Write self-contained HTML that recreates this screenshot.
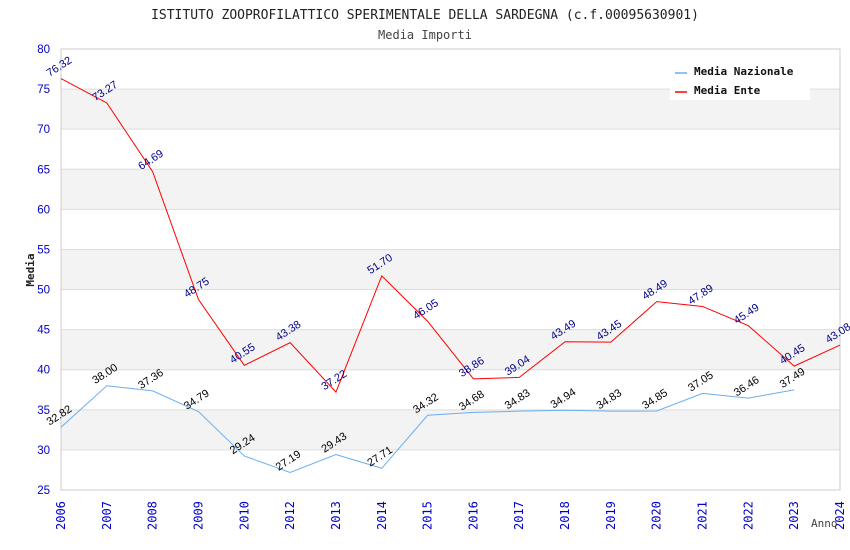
<!DOCTYPE html>
<html><head><meta charset="utf-8"><style>body{margin:0;background:#fff}svg{display:block}</style></head><body>
<svg id="c" width="850" height="550" xmlns="http://www.w3.org/2000/svg" font-family="Liberation Sans, sans-serif">
<text x="425" y="19" text-anchor="middle" font-family="DejaVu Sans Mono, monospace" font-size="13" fill="#222">ISTITUTO ZOOPROFILATTICO SPERIMENTALE DELLA SARDEGNA (c.f.00095630901)</text>
<text x="425" y="39" text-anchor="middle" font-family="DejaVu Sans Mono, monospace" font-size="12" fill="#444">Media Importi</text>
<g id="grid"></g><g id="series"></g><g id="labels"></g>
<text x="34" y="270" transform="rotate(-90 34 270)" text-anchor="middle" font-family="DejaVu Sans Mono, monospace" font-size="11" font-weight="bold" fill="#222">Media</text>
<text x="811" y="527" font-family="DejaVu Sans Mono, monospace" font-size="11" fill="#444">Anno</text>
<g>
<rect x="670" y="60" width="140" height="40" fill="#fff"/>
<line x1="675" y1="73" x2="687" y2="73" stroke="#6aaeed" stroke-width="1.5"/>
<text x="694" y="75" font-family="DejaVu Sans Mono, monospace" font-size="11" font-weight="bold" fill="#111">Media Nazionale</text>
<line x1="675" y1="92" x2="687" y2="92" stroke="#f00" stroke-width="1.5"/>
<text x="694" y="94" font-family="DejaVu Sans Mono, monospace" font-size="11" font-weight="bold" fill="#111">Media Ente</text>
</g>
</svg>
<script>
const years=["2006","2007","2008","2009","2010","2012","2013","2014","2015","2016","2017","2018","2019","2020","2021","2022","2023","2024"];
const ente=[76.32,73.27,64.69,48.75,40.55,43.38,37.22,51.70,46.05,38.86,39.04,43.49,43.45,48.49,47.89,45.49,40.45,43.08];
const naz=[32.82,38.00,37.36,34.79,29.24,27.19,29.43,27.71,34.32,34.68,34.83,34.94,34.83,34.85,37.05,36.46,37.49,null];
const yTicks=[25,30,35,40,45,50,55,60,65,70,75,80];
const NS="http://www.w3.org/2000/svg";
const L=61,R=840,T=49,B=490,yMin=25,yMax=80;
const x=i=>L+(R-L)*i/(years.length-1);
const y=v=>B-(v-yMin)/(yMax-yMin)*(B-T);
function mk(t,a,p){const e=document.createElementNS(NS,t);for(const k in a)e.setAttribute(k,a[k]);p.appendChild(e);return e;}
const g=document.getElementById('grid'),s=document.getElementById('series'),lb=document.getElementById('labels');
for(let i=0;i<yTicks.length-1;i++){if(i%2===1){const r=mk('rect',{x:L,y:y(yTicks[i+1]),width:R-L,height:y(yTicks[i])-y(yTicks[i+1]),fill:'#f3f3f3'},g);

}}
yTicks.forEach(v=>{const l=mk('line',{x1:L,x2:R,y1:y(v),y2:y(v),stroke:'#ddd'},g);


const t=mk('text',{x:50,y:y(v)+4,'text-anchor':'end','font-size':'11.5',fill:'#00c'},g);t.textContent=v;

});
mk('rect',{x:L,y:T,width:R-L,height:B-T,fill:'none',stroke:'#ccc'},g);
years.forEach((yr,i)=>{const t=mk('text',{x:x(i)+4,y:530,transform:`rotate(-90 ${x(i)+4} 530)`,'font-family':'DejaVu Sans Mono, monospace','font-size':'12',fill:'#00c'},g);t.textContent=yr;

});
function line(arr,col,tc,name){let d='';arr.forEach((v,i)=>{if(v==null)return;d+=(d?'L':'M')+x(i)+' '+y(v);});
const p=mk('path',{d:d,fill:'none',stroke:col,'stroke-width':1},s);


arr.forEach((v,i)=>{if(v==null)return;const tx=x(i),ty=y(v)-9;const t=mk('text',{x:tx,y:ty,'text-anchor':'middle',transform:`rotate(-33 ${tx} ${ty})`,'font-size':'11',fill:tc},lb);t.textContent=v.toFixed(2);

});}
line(naz,'#6aaeed','#000','media-nazionale-line');
line(ente,'#f00','#00008b','media-ente-line');
</script>
</body></html>
